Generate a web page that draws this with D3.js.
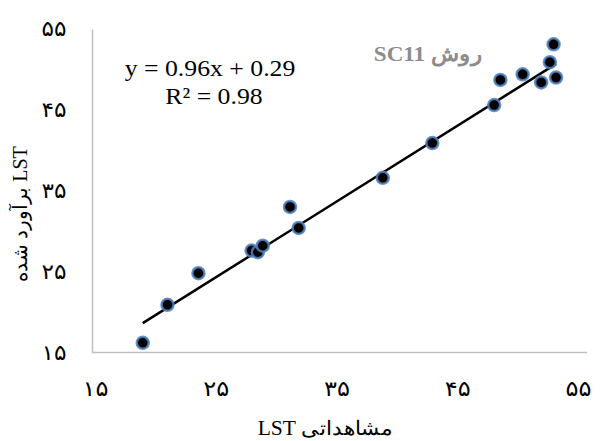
<!DOCTYPE html>
<html>
<head>
<meta charset="utf-8">
<script src="https://cdn.jsdelivr.net/npm/d3@7"></script>
<style>
  body { margin: 0; background: #fff; }
  svg { display: block; }
</style>
</head>
<body>
<script>
const observed = [19.1, 21.1, 23.6, 27.9, 28.4, 28.8, 31.0, 31.7, 38.5, 42.5, 47.5, 48.0, 49.8, 51.3, 52.0, 52.3, 52.5]
const estimated = [16.2, 20.9, 24.8, 27.6, 27.4, 28.2, 33.0, 30.4, 36.6, 40.9, 45.6, 48.7, 49.4, 48.4, 50.9, 53.1, 49.0]
const ticks = [15, 25, 35, 45, 55]
const tickLabels = ['۱۵', '۲۵', '۳۵', '۴۵', '۵۵']
const slope = 0.96
const intercept = 0.29

const w = 603
const h = 441

const data = observed.map((d, i) => ({x: d, y: estimated[i]}))

const svg = d3.select('body')
    .append('svg')
    .attr('width', w)
    .attr('height', h)

svg.append('defs')
    .append('filter')
    .attr('id', 'soft')
    .append('feGaussianBlur')
    .attr('stdDeviation', 0.6)

let x = d3.scaleLinear()
    .domain([15, 55])
    .range([92, 587])

// the x labels sit a bit left of their ticks in the original
let xLab = d3.scaleLinear()
    .domain([15, 55])
    .range([95, 578])

let y = d3.scaleLinear()
    .domain([15, 55])
    .range([352.5, 29])

const xAxis = d3.axisBottom(xLab)
    .tickValues(ticks)
    .tickSize(0)
    .tickPadding(29)
    .tickFormat((d, i) => tickLabels[i])

const yAxis = d3.axisLeft(y)
    .tickValues(ticks)
    .tickSize(0)
    .tickPadding(28)
    .tickFormat((d, i) => tickLabels[i])

const gx = svg.append('g')
    .attr('transform', `translate(0, ${y(15)})`)
    .call(xAxis)

const gy = svg.append('g')
    .attr('transform', `translate(${x(15)}, 0)`)
    .call(yAxis)

gx.select('.domain').remove()
gy.select('.domain').attr('stroke', '#bfbfbf').attr('stroke-width', 1.5)

svg.append('line')
    .attr('x1', x(15))
    .attr('x2', x(55))
    .attr('y1', y(15))
    .attr('y2', y(15))
    .attr('stroke', '#bfbfbf')
    .attr('stroke-width', 1.5)

svg.selectAll('.tick text')
    .attr('font-family', 'DejaVu Sans, sans-serif')
    .attr('font-size', 21)
    .attr('fill', '#000')
    .attr('text-anchor', 'middle')
    .attr('lengthAdjust', 'spacingAndGlyphs')

gx.selectAll('.tick text').attr('textLength', 26)
gy.selectAll('.tick text').attr('dx', -10).attr('textLength', 25)

// trend line
const xMin = d3.min(observed)
const xMax = d3.max(observed)
svg.append('line')
    .attr('x1', x(xMin))
    .attr('y1', y(slope * xMin + intercept))
    .attr('x2', x(xMax))
    .attr('y2', y(slope * xMax + intercept))
    .attr('stroke', '#000')
    .attr('stroke-width', 2.5)

svg.selectAll('circle')
    .data(data)
    .enter()
    .append('circle')
    .attr('cx', d => x(d.x))
    .attr('cy', d => y(d.y))
    .attr('r', 6)
    .attr('fill', '#000')
    .attr('stroke', '#4f81bd')
    .attr('stroke-width', 2.5)
    .attr('stroke-opacity', 0.85)
    .attr('filter', 'url(#soft)')

svg.append('text')
    .attr('transform', 'translate(210, 76) scale(1.12, 1)')
    .attr('text-anchor', 'middle')
    .attr('font-family', 'Liberation Serif, serif')
    .attr('font-size', 23)
    .text('y = 0.96x + 0.29')

svg.append('text')
    .attr('transform', 'translate(214, 104) scale(1.12, 1)')
    .attr('text-anchor', 'middle')
    .attr('font-family', 'Liberation Serif, serif')
    .attr('font-size', 23)
    .text('R² = 0.98')

svg.append('text')
    .attr('transform', 'translate(428, 61) scale(1.1, 1)')
    .attr('text-anchor', 'middle')
    .attr('font-family', 'Liberation Serif, serif')
    .attr('font-weight', 'bold')
    .attr('font-size', 21)
    .attr('fill', '#8c8c8c')
    .text('SC11 روش')

svg.append('text')
    .attr('transform', 'translate(325, 435) scale(1.08, 1)')
    .attr('text-anchor', 'middle')
    .attr('font-family', 'Liberation Serif, serif')
    .attr('font-size', 20)
    .text('LST مشاهداتی')

svg.append('text')
    .attr('transform', `translate(27, 214) rotate(-90)`)
    .attr('text-anchor', 'middle')
    .attr('font-family', 'Liberation Serif, serif')
    .attr('font-size', 20)
    .text('برآورد شده LST')
</script>
</body>
</html>
